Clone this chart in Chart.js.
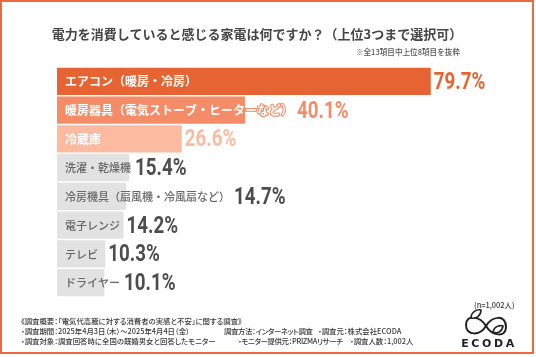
<!DOCTYPE html>
<html><head><meta charset="utf-8">
<script src="https://cdn.jsdelivr.net/npm/chart.js@4/dist/chart.umd.min.js"></script>
<style>
html,body{margin:0;padding:0;background:#fff;}
#wrap{position:relative;width:536px;height:357px;overflow:hidden;font-family:"Noto Sans CJK JP","Noto Sans",sans-serif;}
#frame{position:absolute;left:0;top:0;width:534px;height:354px;border:2px solid #EC6B3C;box-sizing:border-box;pointer-events:none;}
canvas{position:absolute;left:0;top:0;}
.t{position:absolute;white-space:nowrap;color:#444;}
#title{left:0;width:514px;text-align:center;top:24px;font-size:13px;font-weight:700;color:#454545;}
#note{right:76px;top:46px;font-size:7.6px;color:#555;font-weight:500;}
.f{font-size:7.4px;line-height:10px;color:#3a3a3a;font-weight:500;font-feature-settings:"palt";}
.n{letter-spacing:-0.35px;}
</style></head>
<body><div id="wrap">
<canvas id="c" width="536" height="357"></canvas>
<div class="t" id="title">電力を消費していると感じる家電は何ですか？（上位3つまで選択可）</div>
<div class="t" id="note">※全13項目中上位8項目を抜粋</div>
<div class="t f" style="left:21px;top:316px;">《調査概要：「電気代高騰に対する消費者の実感と不安」に関する調査》</div>
<div class="t f" style="left:21px;top:326px;">・調査期間：2025年4月3日（木）～2025年4月4日（金）</div>
<div class="t f n" style="left:224px;top:326px;">調査方法：インターネット調査</div>
<div class="t f" style="left:318px;top:326px;">・調査元：株式会社ECODA</div>
<div class="t f" style="left:21px;top:336px;">・調査対象：調査回答時に全国の既婚男女と回答したモニター</div>
<div class="t f n" style="left:238px;top:336px;">・モニター提供元：PRIZMAリサーチ</div>
<div class="t f" style="left:350px;top:336px;">・調査人数：1,002人</div>
<div class="t f" style="left:474px;top:300px;">(n=1,002人)</div>
<svg style="position:absolute;left:456px;top:306px;" width="64" height="46" viewBox="0 0 64 46">
  <path d="M30,20 C24,10 10,8 10,19 C10,30 24,30 30,20 C36,10 50,8 50,21 C50,32 36,30 30,20 Z" fill="none" stroke="#222" stroke-width="2"/>
  <path d="M15,12 C15,6 21,3 25,4 C25,10 20,13 15,12 Z" fill="#fff" stroke="#222" stroke-width="1.6"/>
  <path d="M37,26 C38,20 44,19 47,20 C46,26 41,28 37,26 Z" fill="#fff" stroke="#222" stroke-width="1.6"/>
  <text x="33" y="41" text-anchor="middle" font-family="DejaVu Sans, sans-serif" font-weight="700" font-size="11" letter-spacing="2.6" fill="#222">ECODA</text>
</svg>
<div id="frame"></div>
</div>
<script>
const categories = ["エアコン（暖房・冷房）","暖房器具（電気ストーブ・ヒーターなど）","冷蔵庫","洗濯・乾燥機","冷房機具（扇風機・冷風扇など）","電子レンジ","テレビ","ドライヤー"];
const values = [79.7,40.1,26.6,15.4,14.7,14.2,10.3,10.1];
const valueLabels = ["79.7%","40.1%","26.6%","15.4%","14.7%","14.2%","10.3%","10.1%"];
const barColors = ["#E66433","#F58C68","#FCBBA1","#E2E2E2","#E2E2E2","#E2E2E2","#E2E2E2","#E2E2E2"];
const nameColors = ["#FFFFFF","#FFFFFF","#FFFFFF","#666666","#666666","#666666","#666666","#666666"];
const valueColors = ["#E66433","#F58C68","#FCBBA1","#4D4D4D","#4D4D4D","#4D4D4D","#4D4D4D","#4D4D4D"];

const labelPlugin = {
  id:'labels',
  afterDatasetsDraw(chart){
    const ctx = chart.ctx;
    const meta = chart.getDatasetMeta(0);
    meta.data.forEach((bar,i)=>{
      ctx.save();
      const top3 = i<3;
      ctx.font = (top3? '700 12px ':'500 11px ') + '"Noto Sans CJK JP", sans-serif';
      ctx.textBaseline = 'middle';
      ctx.textAlign = 'left';
      const tx = bar.base + 8;
      if (top3) {
        ctx.strokeStyle = barColors[i];
        ctx.lineWidth = 2.2;
        ctx.lineJoin = 'round';
        ctx.strokeText(categories[i], tx, bar.y+0.5);
      }
      ctx.fillStyle = nameColors[i];
      ctx.fillText(categories[i], tx, bar.y+0.5);
      const tw = ctx.measureText(categories[i]).width;
      const vx = Math.max(bar.x + 3, tx + tw + 4);
      ctx.font = '700 24px Roboto, "DejaVu Sans", sans-serif';
      ctx.fillStyle = valueColors[i];
      ctx.translate(vx, bar.y+1.5);
      ctx.scale(0.78,1);
      ctx.fillText(valueLabels[i], 0, 0);
      ctx.restore();
    });
  }
};

new Chart(document.getElementById('c'),{
  type:'bar',
  data:{labels:categories,datasets:[{data:values,backgroundColor:barColors,borderWidth:0,barPercentage:0.94,categoryPercentage:1}]},
  options:{
    indexAxis:'y',responsive:false,animation:false,devicePixelRatio:1,
    layout:{padding:{left:57,right:10,top:67,bottom:60}},
    scales:{x:{min:0,max:100,display:false},y:{display:false}},
    plugins:{legend:{display:false},tooltip:{enabled:false}}
  },
  plugins:[labelPlugin]
});
</script>
</body></html>
